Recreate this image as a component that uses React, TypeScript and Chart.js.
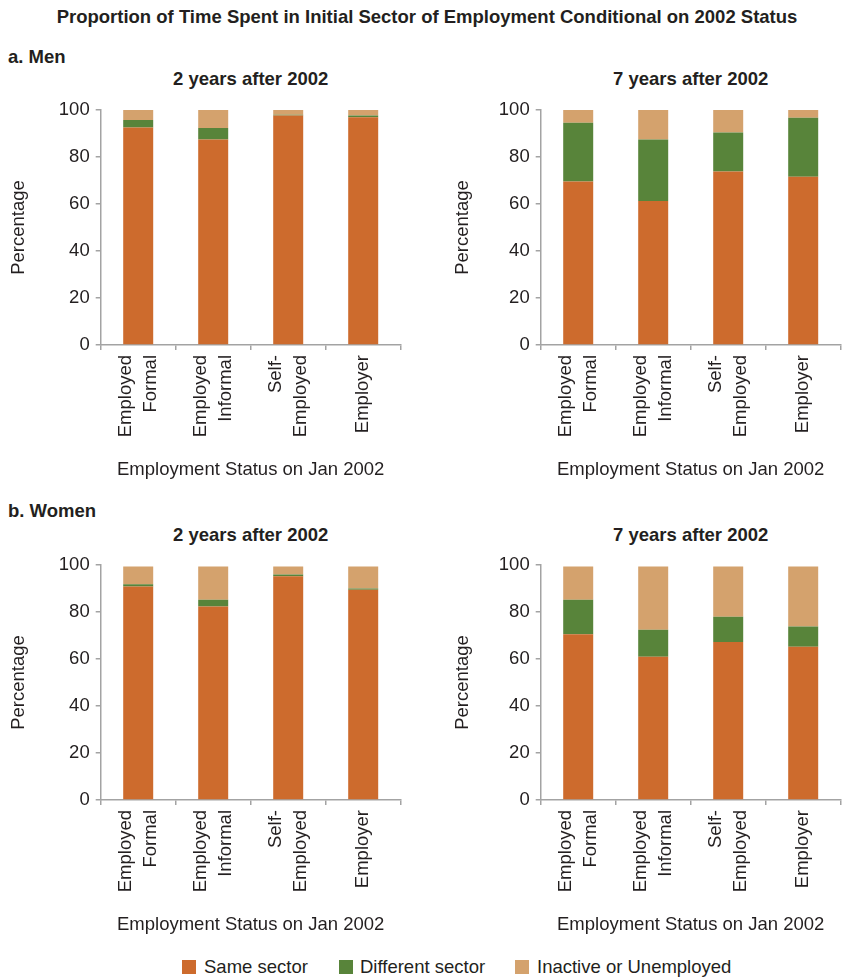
import React, { useEffect, useRef } from 'react';
import { Chart, registerables } from 'chart.js';

Chart.register(...registerables);

// ---- Data ----
const categories: string[][] = [
  ['Employed', 'Formal'],
  ['Employed', 'Informal'],
  ['Self-', 'Employed'],
  ['Employer'],
];
const yTicks = [0, 20, 40, 60, 80, 100];
const seriesNames = ['Same sector', 'Different sector', 'Inactive or Unemployed'];
const seriesColors = ['#CD6B2D', '#58843A', '#D4A26D'];

const menTwoSame = [92.6, 87.5, 97.7, 96.9];
const menTwoDiff = [3.1, 4.8, 0.3, 0.8];
const menTwoInactive = [4.3, 7.7, 2.0, 2.3];

const menSevenSame = [69.6, 61.3, 73.8, 71.6];
const menSevenDiff = [25.0, 26.1, 16.6, 25.1];
const menSevenInactive = [5.4, 12.6, 9.6, 3.3];

const womenTwoSame = [90.9, 82.3, 95.2, 89.5];
const womenTwoDiff = [0.9, 2.9, 0.8, 0.5];
const womenTwoInactive = [7.6, 14.2, 3.4, 9.4];

const womenSevenSame = [70.5, 61.0, 67.2, 65.2];
const womenSevenDiff = [14.7, 11.5, 10.8, 8.6];
const womenSevenInactive = [14.2, 26.9, 21.4, 25.6];

const mainTitle = 'Proportion of Time Spent in Initial Sector of Employment Conditional on 2002 Status';
const xTitle = 'Employment Status on Jan 2002';
const yTitle = 'Percentage';

// ---- Styles ----
const FONT = "'Liberation Sans', Arial, Helvetica, sans-serif";
const TEXT = '#231f20';
const AXIS = '#a3a3a3';
const FS = 18.5;

type PanelProps = {
  left: number;
  top: number;
  same: number[];
  diff: number[];
  inactive: number[];
  yTitlePad: number;
};

function Panel({ left, top, same, diff, inactive, yTitlePad }: PanelProps) {
  const ref = useRef<HTMLCanvasElement>(null);
  useEffect(() => {
    const chart = new Chart(ref.current as HTMLCanvasElement, {
      type: 'bar',
      data: {
        labels: categories.map((c) => c.join(' ')),
        datasets: [same, diff, inactive].map((d, i) => ({
          label: seriesNames[i],
          data: d,
          backgroundColor: seriesColors[i],
          borderWidth: 0,
          barPercentage: 0.4,
          categoryPercentage: 1,
        })),
      },
      options: {
        responsive: false,
        maintainAspectRatio: false,
        animation: false,
        layout: { padding: { top: 20, right: 20.3, left: 0, bottom: 0 } },
        plugins: {
          legend: { display: false },
          title: { display: false },
          tooltip: { enabled: false },
        },
        scales: {
          x: {
            stacked: true,
            grid: {
              display: true,
              drawOnChartArea: false,
              drawTicks: true,
              tickLength: 5,
              color: AXIS,
              lineWidth: 1.5,
              offset: true,
            },
            border: { display: true, color: AXIS, width: 1.5 },
            ticks: {
              autoSkip: false,
              minRotation: 90,
              maxRotation: 90,
              padding: 5,
              labelOffset: -12.5,
              color: TEXT,
              callback: (_v: any, i: number) =>
                categories[i].length === 1 ? ['', categories[i][0]] : categories[i],
              font: (ctx: any) => ({
                family: FONT,
                size: FS,
                lineHeight: ((categories[ctx.index] && categories[ctx.index].length === 1) ? 12.5 : 25) / FS,
              }),
            },
            title: {
              display: true,
              text: xTitle,
              color: TEXT,
              font: { family: FONT, size: FS },
              padding: { top: 0, bottom: 3.9 },
            },
            afterFit: (s: any) => {
              s.height = 140;
            },
          },
          y: {
            stacked: true,
            min: 0,
            max: 100,
            afterBuildTicks: (s: any) => {
              s.ticks = yTicks.map((v) => ({ value: v }));
            },
            grid: {
              display: true,
              drawOnChartArea: false,
              drawTicks: true,
              tickLength: 5,
              color: AXIS,
              lineWidth: 1.5,
            },
            border: { display: true, color: AXIS, width: 1.5 },
            ticks: {
              padding: 6,
              color: TEXT,
              font: { family: FONT, size: FS },
            },
            title: {
              display: true,
              text: yTitle,
              color: TEXT,
              font: { family: FONT, size: FS },
              padding: { top: yTitlePad, bottom: 0 },
            },
            afterFit: (s: any) => {
              s.width = 100.7;
            },
          },
        },
      },
    } as any);
    return () => chart.destroy();
  }, []);
  return (
    <canvas
      ref={ref}
      width={421}
      height={395}
      style={{ position: 'absolute', left, top, width: 421, height: 395 }}
    />
  );
}

function Label({ text, cx, cy, left, bold, size }: { text: string; cx?: number; cy: number; left?: number; bold?: boolean; size?: number }) {
  const lh = 24;
  const style: React.CSSProperties = {
    position: 'absolute',
    top: cy - lh / 2,
    height: lh,
    lineHeight: `${lh}px`,
    fontSize: size || FS,
    fontWeight: bold ? 'bold' : 'normal',
    whiteSpace: 'nowrap',
    color: TEXT,
  };
  if (cx !== undefined) {
    style.left = cx - 420;
    style.width = 840;
    style.textAlign = 'center';
  } else {
    style.left = left;
  }
  return <div style={style}>{text}</div>;
}

export default function App() {
  const legendSquares = [182.4, 338.6, 515];
  const legendTexts = [204, 360, 537];
  return (
    <div style={{ position: 'absolute', left: 0, top: 0, width: 842, height: 980, fontFamily: FONT, background: '#fff' }}>
      <Label text={mainTitle} cx={427} cy={17} bold />
      <Label text="a. Men" left={8} cy={57} bold />
      <Label text="2 years after 2002" cx={250.7} cy={79} bold />
      <Label text="7 years after 2002" cx={690.7} cy={79} bold />
      <Label text="b. Women" left={8} cy={511} bold />
      <Label text="2 years after 2002" cx={250.7} cy={534.5} bold />
      <Label text="7 years after 2002" cx={690.7} cy={534.5} bold />

      <Panel left={0} top={90} same={menTwoSame} diff={menTwoDiff} inactive={menTwoInactive} yTitlePad={7.4} />
      <Panel left={440} top={90} same={menSevenSame} diff={menSevenDiff} inactive={menSevenInactive} yTitlePad={11.4} />
      <Panel left={0} top={545} same={womenTwoSame} diff={womenTwoDiff} inactive={womenTwoInactive} yTitlePad={7.4} />
      <Panel left={440} top={545} same={womenSevenSame} diff={womenSevenDiff} inactive={womenSevenInactive} yTitlePad={11.4} />

      {seriesNames.map((name, i) => (
        <React.Fragment key={name}>
          <div
            style={{
              position: 'absolute',
              left: legendSquares[i],
              top: 967 - 7,
              width: 14,
              height: 14,
              background: seriesColors[i],
            }}
          />
          <Label text={name} left={legendTexts[i]} cy={967} />
        </React.Fragment>
      ))}
    </div>
  );
}
